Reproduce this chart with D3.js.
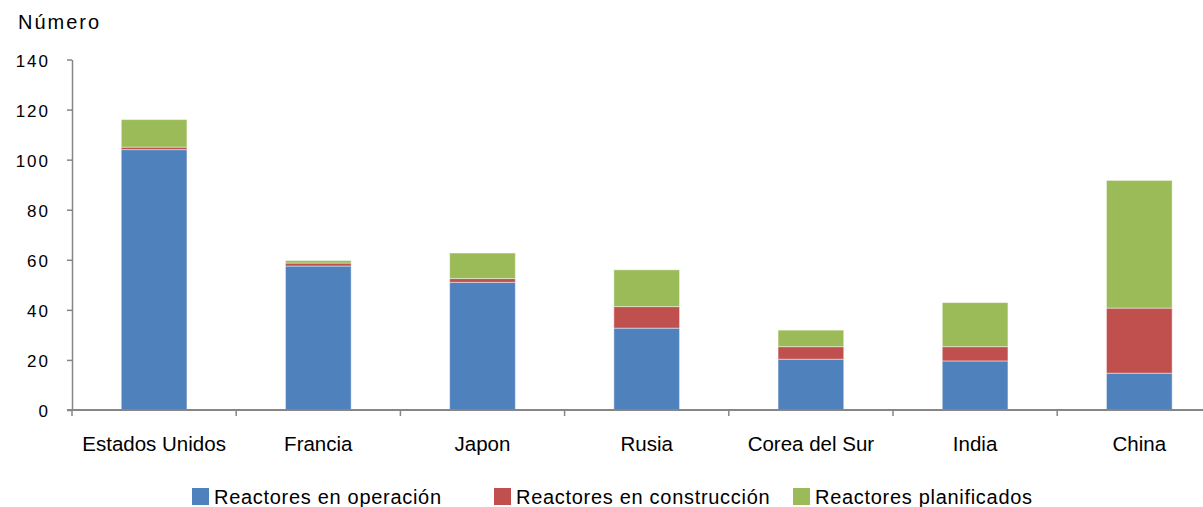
<!DOCTYPE html>
<html>
<head>
<meta charset="utf-8">
<script src="https://cdn.jsdelivr.net/npm/d3@7"></script>
<style>
  body { margin: 0; background: #fff; }
  text { font-family: "Liberation Sans", Arial, sans-serif; fill: #000; }
</style>
</head>
<body>
<div id="chart"></div>
<script>
// data
var countries = ["Estados Unidos", "Francia", "Japon", "Rusia", "Corea del Sur", "India", "China"];
var operacion = [104, 57.5, 51, 32.7, 20.3, 19.6, 14.7];
var construccion = [1, 1.2, 1.5, 8.6, 5, 5.7, 26];
var planificados = [11, 1, 10.2, 14.7, 6.6, 17.6, 51];
var seriesNames = ["Reactores en operación", "Reactores en construcción", "Reactores planificados"];
var seriesColors = ["#4F81BD", "#C0504D", "#9BBB59"];
var yTicks = [0, 20, 40, 60, 80, 100, 120, 140];

var width = 1203, height = 507;
var margin = {top: 59.5, left: 72, bottom: 97};
var step = 164.2;

var svg = d3.select("#chart")
  .append("svg")
    .attr("width", width)
    .attr("height", height);

// table for the stack
var rows = countries.map(function(c, i) {
  return {country: c, s0: operacion[i], s1: construccion[i], s2: planificados[i]};
});
var stack = d3.stack().keys(["s0", "s1", "s2"])(rows);

var x = d3.scaleBand()
  .domain(countries)
  .range([margin.left, margin.left + step * countries.length])
  .padding(0);

var y = d3.scaleLinear()
  .domain([0, 140])
  .range([height - margin.bottom, margin.top]);

var barW = x.bandwidth() * 0.4;

// bars
svg.append("g")
  .selectAll("g")
  .data(stack)
  .enter().append("g")
    .attr("fill", function(d, i) { return seriesColors[i]; })
  .selectAll("rect")
  .data(function(d) { return d; })
  .enter().append("rect")
    .attr("x", function(d) { return x(d.data.country) + (x.bandwidth() - barW) / 2; })
    .attr("y", function(d) { return y(d[1]); })
    .attr("width", barW)
    .attr("height", function(d) { return y(d[0]) - y(d[1]); })
    .attr("stroke", "#ffffff")
    .attr("stroke-opacity", 0.45)
    .attr("stroke-width", 1);

// y axis
var yAxis = svg.append("g")
  .attr("transform", "translate(" + margin.left + ",0)")
  .call(d3.axisLeft(y).tickValues(yTicks).tickSize(5).tickPadding(17).tickSizeOuter(0));
yAxis.select(".domain").attr("stroke", "#868686").attr("stroke-width", 1.5);
yAxis.selectAll(".tick line").attr("stroke", "#868686").attr("stroke-width", 1.5);
yAxis.selectAll(".tick text")
  .style("font-size", "17px")
  .style("letter-spacing", "2px")
  .attr("dy", "0.4em");

// x axis line + ticks between categories
var xg = svg.append("g");
xg.append("line")
  .attr("x1", margin.left - 5).attr("x2", width)
  .attr("y1", y(0)).attr("y2", y(0))
  .attr("stroke", "#868686").attr("stroke-width", 2);
xg.selectAll(".sep")
  .data(countries)
  .enter().append("line")
    .attr("class", "sep")
    .attr("x1", function(d) { return x(d); })
    .attr("x2", function(d) { return x(d); })
    .attr("y1", y(0)).attr("y2", y(0) + 6)
    .attr("stroke", "#868686").attr("stroke-width", 1.5);
xg.selectAll(".cat")
  .data(countries)
  .enter().append("text")
    .attr("class", "cat")
    .attr("x", function(d) { return x(d) + x.bandwidth() / 2; })
    .attr("y", y(0) + 40.5)
    .attr("text-anchor", "middle")
    .style("font-size", "20.5px")
    .text(function(d) { return d; });

// y title
svg.append("text")
  .attr("x", 18)
  .attr("y", 28.5)
  .style("font-size", "20px")
  .style("letter-spacing", "2px")
  .text("Número");

// legend
var legendX = [192, 494, 793];
var legend = svg.append("g")
  .selectAll("g")
  .data(seriesNames)
  .enter().append("g")
    .attr("transform", function(d, i) { return "translate(" + legendX[i] + ",488)"; });
legend.append("rect")
  .attr("width", 17).attr("height", 17)
  .attr("fill", function(d, i) { return seriesColors[i]; });
legend.append("text")
  .attr("x", 22)
  .attr("y", 16)
  .style("font-size", "20px")
  .style("letter-spacing", "0.7px")
  .text(function(d) { return d; });
</script>
</body>
</html>
